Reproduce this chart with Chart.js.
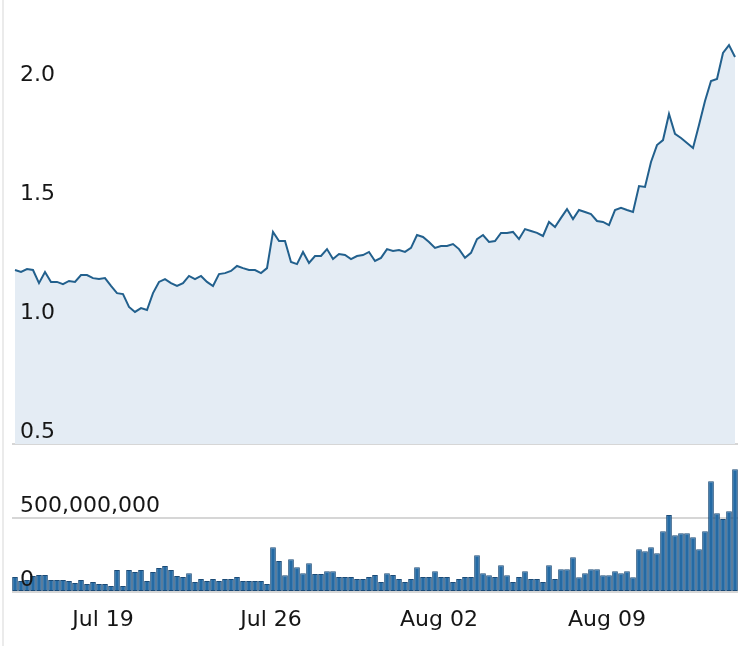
<!DOCTYPE html>
<html>
<head>
<meta charset="utf-8">
<script src="https://cdn.jsdelivr.net/npm/chart.js@4.4.1/dist/chart.umd.min.js"></script>
<style>
  html, body { margin: 0; padding: 0; background: #fff; }
  #wrap { position: relative; width: 750px; height: 646px; }
  #edge { position: absolute; left: 2px; top: 0; width: 2px; height: 646px; background: #ebebeb; }
  canvas { position: absolute; left: 0; top: 0; }
</style>
</head>
<body>
<div id="wrap">
  <div id="edge"></div>
  <canvas id="chart" width="750" height="646"></canvas>
</div>
<script>
// price, one point every 6 hours
const priceValues = [
  1.231, 1.223, 1.235, 1.231, 1.176, 1.223, 1.181, 1.181, 1.172, 1.185,
  1.181, 1.210, 1.210, 1.197, 1.193, 1.197, 1.164, 1.134, 1.130, 1.076,
  1.055, 1.071, 1.063, 1.134, 1.181, 1.193, 1.176, 1.164, 1.176, 1.206,
  1.193, 1.206, 1.181, 1.164, 1.214, 1.218, 1.227, 1.248, 1.239, 1.231,
  1.231, 1.218, 1.239, 1.391, 1.353, 1.353, 1.265, 1.256, 1.307, 1.261,
  1.290, 1.290, 1.319, 1.277, 1.298, 1.294, 1.277, 1.290, 1.294, 1.307,
  1.269, 1.282, 1.319, 1.311, 1.315, 1.307, 1.324, 1.378, 1.370, 1.349,
  1.324, 1.332, 1.332, 1.340, 1.319, 1.282, 1.303, 1.361, 1.378, 1.349,
  1.353, 1.387, 1.387, 1.391, 1.361, 1.403, 1.395, 1.387, 1.374, 1.433,
  1.412, 1.450, 1.487, 1.445, 1.483, 1.475, 1.466, 1.437, 1.433, 1.420,
  1.483, 1.492, 1.483, 1.475, 1.584, 1.580, 1.685, 1.756, 1.777, 1.887,
  1.803, 1.786, 1.765, 1.744, 1.840, 1.941, 2.025, 2.034, 2.143, 2.176,
  2.126
];

// volume in millions
const volumeValues = [
  101, 74, 81, 108, 115, 115, 81, 81, 81, 74,
  61, 81, 54, 68, 54, 54, 41, 149, 41, 149,
  135, 149, 74, 135, 162, 176, 149, 108, 101, 126,
  68, 88, 74, 88, 74, 88, 88, 101, 74, 74,
  74, 74, 54, 302, 209, 113, 221, 167, 126, 194,
  122, 122, 140, 140, 101, 101, 101, 88, 88, 101,
  115, 68, 126, 115, 88, 68, 88, 167, 101, 101,
  140, 101, 101, 68, 88, 101, 101, 248, 126, 113,
  101, 180, 113, 68, 101, 140, 88, 88, 68, 180,
  88, 153, 153, 234, 99, 126, 153, 153, 113, 113,
  140, 126, 140, 99, 289, 275, 302, 262, 410, 520,
  383, 397, 397, 370, 289, 410, 748, 532, 493, 545,
  829
];

const startTime = Date.UTC(2021, 6, 15, 6);
const stepHours = 6;
const dayTicks = ["Jul 19", "Jul 26", "Aug 02", "Aug 09"];
const priceTicks = [0.5, 1.0, 1.5, 2.0];
const volumeTicks = [0, 500, 1000];

const times = priceValues.map((_, i) => new Date(startTime + i * stepHours * 3600000));
const timeLabels = times.map(d => d.toLocaleDateString("en-US", { month: "short", day: "2-digit", timeZone: "UTC" }));

const labelFont = { family: "DejaVu Sans", size: 22 };
const textColor = "#161616";

// axes take no room of their own: labels sit inside the plot
function flatAxis(size) {
  return axis => {
    if (axis.isHorizontal()) axis.height = size; else axis.width = size;
    axis.paddingTop = 0;
    axis.paddingBottom = 0;
    axis.paddingLeft = 0;
    axis.paddingRight = 0;
  };
}

new Chart(document.getElementById("chart"), {
  data: {
    labels: timeLabels,
    datasets: [
      {
        type: "line",
        data: priceValues,
        yAxisID: "price",
        borderColor: "#22608d",
        borderWidth: 2,
        backgroundColor: "#e4ecf4",
        fill: "start",
        pointRadius: 0,
        tension: 0
      },
      {
        type: "bar",
        data: volumeValues,
        yAxisID: "volume",
        backgroundColor: "#246aa4",
        borderColor: "#1b4b77",
        borderWidth: 1,
        borderSkipped: false,
        barPercentage: 0.95,
        categoryPercentage: 1
      }
    ]
  },
  options: {
    responsive: false,
    animation: false,
    layout: { autoPadding: false, padding: { left: 12, right: 12, top: 8, bottom: 12.6 } },
    plugins: { legend: { display: false }, tooltip: { enabled: false } },
    scales: {
      x: {
        type: "category",
        offset: true,
        grid: { display: false, drawTicks: false },
        border: { display: false },
        afterFit: flatAxis(41.4),
        ticks: {
          autoSkip: false,
          maxRotation: 0,
          padding: 15,
          labelOffset: -2,
          font: labelFont,
          color: textColor,
          callback: function(value, index) {
            const d = times[index];
            const name = timeLabels[index];
            return d.getUTCHours() === 0 && dayTicks.includes(name) ? name : "";
          }
        }
      },
      price: {
        type: "linear",
        position: "left",
        stack: "main",
        stackWeight: 436,
        weight: 2,
        min: 0.5,
        max: 2.332,
        grid: { display: false, drawTicks: false },
        border: { display: false },
        afterFit: flatAxis(0),
        afterBuildTicks: axis => { axis.ticks = priceTicks.map(v => ({ value: v })); },
        ticks: {
          z: 1,
          autoSkip: false,
          mirror: true,
          padding: 8,
          labelOffset: -12,
          font: labelFont,
          color: textColor,
          callback: v => v.toFixed(1)
        }
      },
      volume: {
        type: "linear",
        position: "left",
        stack: "main",
        stackWeight: 148,
        weight: 1,
        min: 0,
        max: 1000,
        grid: { color: "#d6d6d6", lineWidth: 2, drawTicks: false },
        border: { display: false },
        afterFit: flatAxis(0),
        afterBuildTicks: axis => { axis.ticks = volumeTicks.map(v => ({ value: v })); },
        ticks: {
          z: 1,
          autoSkip: false,
          mirror: true,
          padding: 8,
          labelOffset: -12,
          font: labelFont,
          color: textColor,
          callback: v => v >= 1000 ? "" : (v * 1000000).toLocaleString("en-US")
        }
      }
    }
  }
});
</script>
</body>
</html>
